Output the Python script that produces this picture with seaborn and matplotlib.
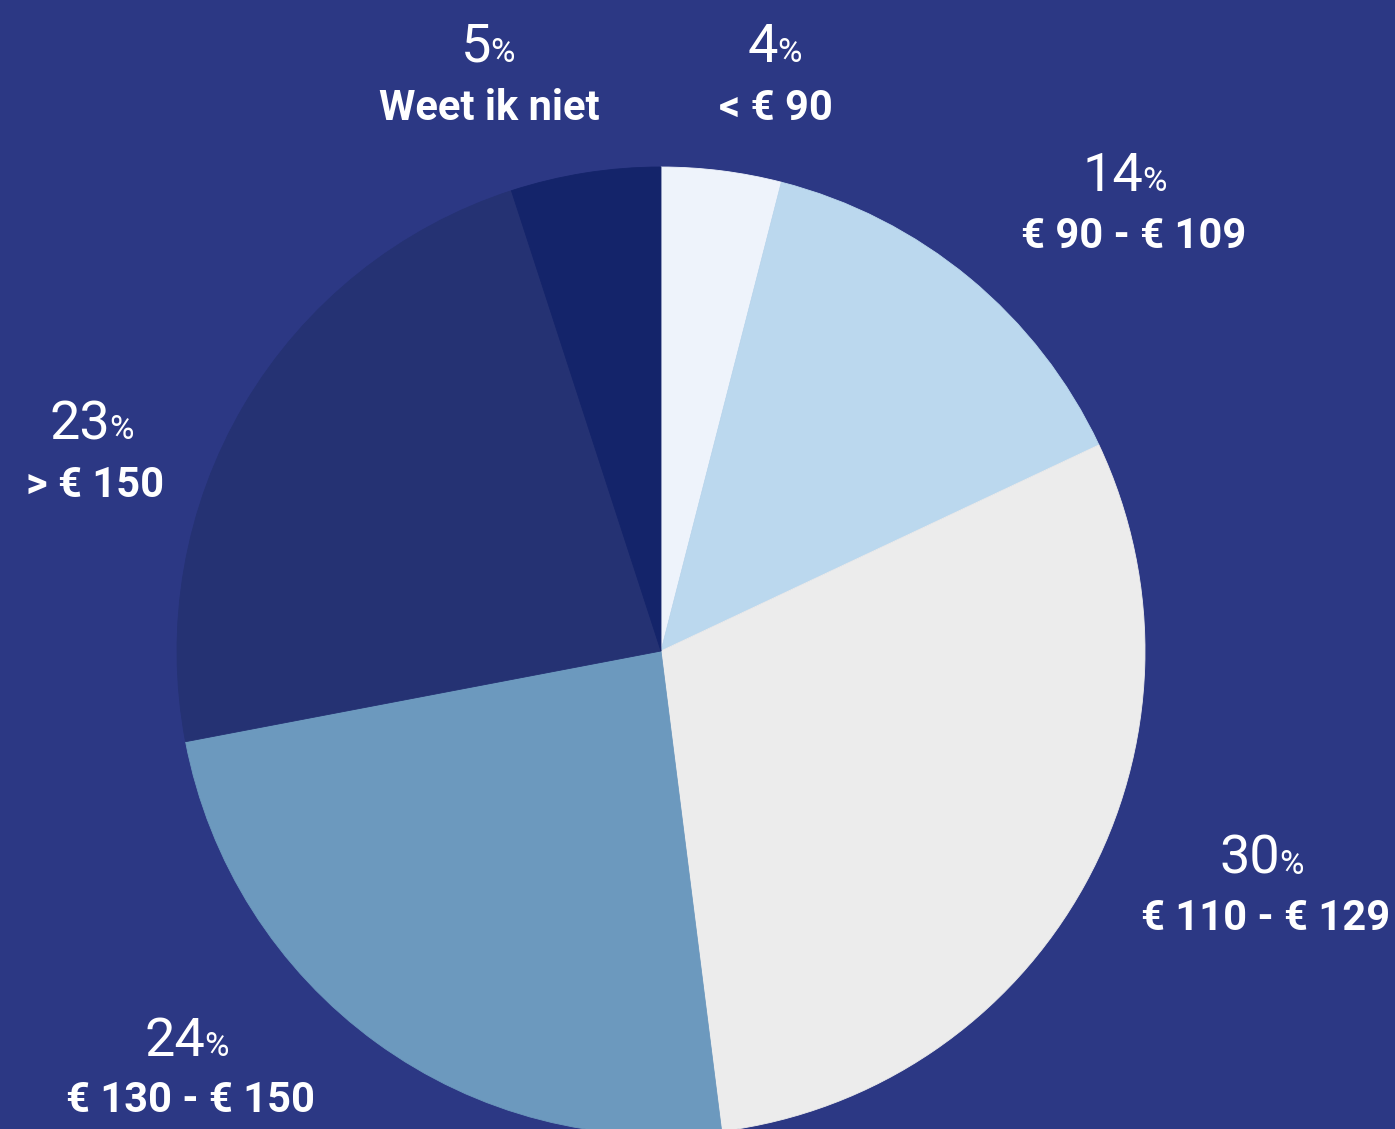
import matplotlib
matplotlib.use("Agg")
import matplotlib.pyplot as plt
import seaborn as sns

# Data (clockwise from top)
categories = ["< € 90", "€ 90 - € 109", "€ 110 - € 129", "€ 130 - € 150", "> € 150", "Weet ik niet"]
shares = [4, 14, 30, 24, 23, 5]
slice_colors = ["#EEF3FB", "#BBD8EE", "#ECECEC", "#6C99BE", "#253273", "#14246A"]

# label anchors in pixels: split x between number and %, baseline of number,
# centre x of category, baseline of category
label_pos = [
    (778, 62, 776, 120),
    (1143, 191, 1134, 248),
    (1280, 874, 1266, 930),
    (205, 1056, 190, 1112),
    (110, 439, 95, 497),
    (491, 62, 489, 120),
]

W, H = 1395, 1129
bg = "#2C3884"

sns.set_theme(style="white")
plt.rcParams["font.family"] = ["Roboto", "DejaVu Sans"]

fig = plt.figure(figsize=(W / 100, H / 100), dpi=100, facecolor=bg)
ax = fig.add_axes([0, 0, 1, 1])
ax.set_facecolor(bg)

wedges, _ = ax.pie(shares, colors=slice_colors, startangle=90, counterclock=False,
                   center=(661, H - 651), radius=484)
for w, c in zip(wedges, slice_colors):
    w.set_edgecolor(c)
    w.set_linewidth(0.6)
ax.set_xlim(0, W)
ax.set_ylim(0, H)
ax.set_aspect("equal")
ax.axis("off")

for cat, val, (sx, ny, cx, cy) in zip(categories, shares, label_pos):
    ax.text(sx, H - ny, str(val), ha="right", va="baseline", color="white",
            fontsize=39, fontweight="normal")
    ax.text(sx - 1, H - ny, "%", ha="left", va="baseline", color="white",
            fontsize=24, fontweight="normal")
    ax.text(cx, H - cy, cat, ha="center", va="baseline", color="white",
            fontsize=30, fontweight="bold")

fig.savefig("out.png", dpi=100, facecolor=bg)
